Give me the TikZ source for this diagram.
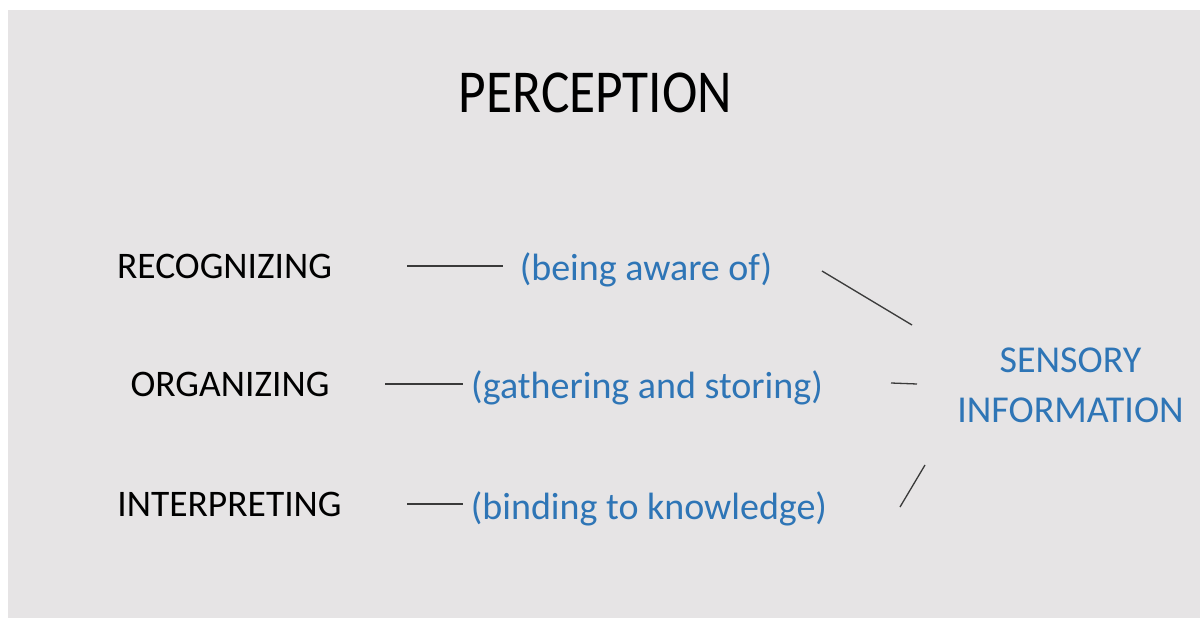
\documentclass[tikz,border=0pt]{standalone}
\usepackage{fontspec}
\setmainfont{Carlito}
\definecolor{bggrey}{HTML}{E6E4E5}
\definecolor{txtblue}{HTML}{2E75B6}
\definecolor{linegrey}{HTML}{3A3A3A}
\tikzset{
  lbl/.style={anchor=base, inner sep=0pt, text=black, font=\fontsize{37.5}{40}\selectfont},
  desc/.style={anchor=base, inner sep=0pt, text=txtblue, font=\fontsize{38}{40}\selectfont},
  conn/.style={draw=linegrey, line width=1.3pt}
}
\begin{document}
\begin{tikzpicture}[x=1pt,y=-1pt]
\useasboundingbox (0,0) rectangle (1200,618);
\fill[white] (0,0) rectangle (1200,618);
\fill[bggrey] (8,10) rectangle (1200,618);
\node[anchor=base, inner sep=0pt, font=\fontsize{61}{64}\selectfont] (title) at (595.5,113) {\scalebox{0.875}[1]{PERCEPTION}};
\node[lbl] (rec) at (224.5,278) {RECOGNIZING};
\node[lbl] (org) at (230,396) {ORGANIZING};
\node[lbl] (int) at (229.5,516) {INTERPRETING};
\node[desc] (aware) at (646,280) {(being aware of)};
\node[desc] (gath) at (647,398) {(gathering and storing)};
\node[desc] (bind) at (649,519) {(binding to knowledge)};
\node[desc] (sens) at (1070.5,372) {SENSORY};
\node[desc] (info) at (1070.5,422) {INFORMATION};
\coordinate (r1) at (407,266); \coordinate (r2) at (503,266);
\coordinate (o1) at (385,384); \coordinate (o2) at (463,384);
\coordinate (i1) at (407,504); \coordinate (i2) at (463,504);
\coordinate (a1) at (822,271); \coordinate (a2) at (912,325);
\coordinate (g1) at (891,383); \coordinate (g2) at (917,384);
\coordinate (b1) at (900,507); \coordinate (b2) at (925,465);
\draw[conn] (r1) -- (r2);
\draw[conn] (o1) -- (o2);
\draw[conn] (i1) -- (i2);
\draw[conn] (a1) -- (a2);
\draw[conn] (g1) -- (g2);
\draw[conn] (b1) -- (b2);
\end{tikzpicture}
\end{document}
